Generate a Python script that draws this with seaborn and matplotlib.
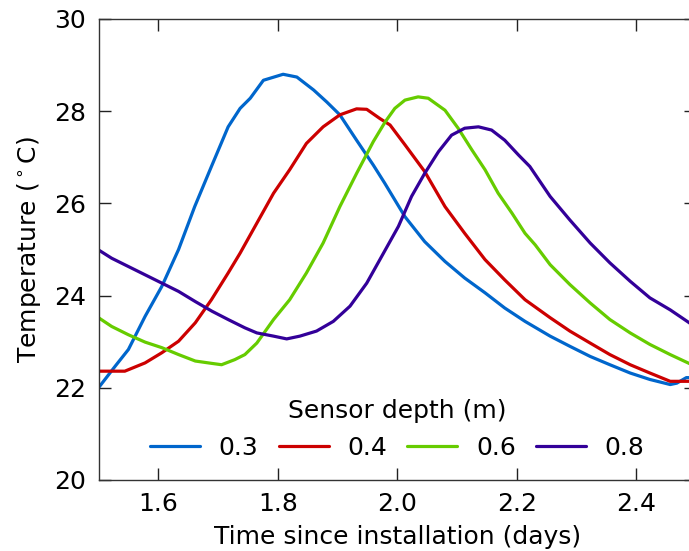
import numpy as np
import pandas as pd
import seaborn as sns
import matplotlib
matplotlib.use('Agg')
import matplotlib.pyplot as plt

# ----- Data (time in days, temperature in deg C) -----
depths = ['0.3', '0.4', '0.6', '0.8']
colors = ['#0066cc', '#cc0000', '#66cc00', '#330099']

t_03 = [1.50, 1.528, 1.55, 1.578, 1.606, 1.634, 1.661, 1.689, 1.717, 1.737, 1.754, 1.776, 1.809,
        1.832, 1.86, 1.882, 1.904, 1.932, 1.96, 1.979, 2.013, 2.046, 2.08, 2.113, 2.147, 2.18,
        2.214, 2.256, 2.289, 2.323, 2.356, 2.39, 2.423, 2.457, 2.468, 2.484, 2.49]
T_03 = [22.0, 22.47, 22.83, 23.55, 24.2, 25.0, 25.93, 26.8, 27.66, 28.06, 28.28, 28.67, 28.80,
        28.74, 28.46, 28.2, 27.92, 27.37, 26.83, 26.44, 25.71, 25.17, 24.74, 24.38, 24.06, 23.73,
        23.44, 23.12, 22.90, 22.68, 22.50, 22.32, 22.18, 22.07, 22.1, 22.22, 22.22]

t_04 = [1.50, 1.544, 1.578, 1.606, 1.634, 1.662, 1.689, 1.717, 1.737, 1.765, 1.793, 1.82, 1.848,
        1.876, 1.904, 1.932, 1.949, 1.971, 1.988, 2.013, 2.046, 2.08, 2.113, 2.147, 2.18, 2.214,
        2.256, 2.289, 2.323, 2.356, 2.39, 2.423, 2.457, 2.49]
T_04 = [22.36, 22.36, 22.54, 22.76, 23.01, 23.41, 23.91, 24.49, 24.92, 25.57, 26.22, 26.73, 27.30,
        27.66, 27.92, 28.05, 28.04, 27.84, 27.70, 27.27, 26.69, 25.93, 25.35, 24.78, 24.34, 23.91,
        23.52, 23.23, 22.97, 22.72, 22.50, 22.32, 22.14, 22.14]

t_06 = [1.50, 1.522, 1.55, 1.578, 1.606, 1.634, 1.662, 1.689, 1.706, 1.728, 1.745, 1.765, 1.793,
        1.82, 1.848, 1.876, 1.904, 1.932, 1.96, 1.98, 1.996, 2.013, 2.035, 2.052, 2.08, 2.102,
        2.125, 2.147, 2.169, 2.192, 2.214, 2.231, 2.256, 2.289, 2.323, 2.356, 2.39, 2.423, 2.457, 2.49]
T_06 = [23.52, 23.33, 23.15, 22.99, 22.87, 22.72, 22.58, 22.53, 22.50, 22.61, 22.72, 22.97, 23.48,
        23.91, 24.49, 25.14, 25.93, 26.65, 27.34, 27.77, 28.06, 28.24, 28.31, 28.28, 28.02, 27.63,
        27.16, 26.73, 26.22, 25.79, 25.35, 25.10, 24.67, 24.24, 23.84, 23.48, 23.19, 22.94, 22.72, 22.52]

t_08 = [1.50, 1.522, 1.55, 1.578, 1.606, 1.634, 1.662, 1.69, 1.717, 1.745, 1.765, 1.793, 1.815,
        1.837, 1.865, 1.893, 1.921, 1.949, 1.971, 2.002, 2.024, 2.046, 2.069, 2.091, 2.113, 2.136,
        2.158, 2.18, 2.203, 2.222, 2.256, 2.289, 2.323, 2.356, 2.39, 2.423, 2.457, 2.49]
T_08 = [24.99, 24.81, 24.63, 24.45, 24.27, 24.09, 23.87, 23.66, 23.48, 23.30, 23.19, 23.12, 23.06,
        23.12, 23.23, 23.44, 23.77, 24.27, 24.78, 25.50, 26.15, 26.65, 27.12, 27.48, 27.63, 27.66,
        27.59, 27.37, 27.05, 26.80, 26.15, 25.64, 25.14, 24.71, 24.31, 23.95, 23.69, 23.40]

# ----- Long-form dataframe for seaborn -----
frames = []
for d, t, T in zip(depths, [t_03, t_04, t_06, t_08], [T_03, T_04, T_06, T_08]):
    frames.append(pd.DataFrame({'time': t, 'temp': T, 'depth': d}))
df = pd.concat(frames, ignore_index=True)

sns.set_theme(style='ticks')
plt.rcParams['font.family'] = ['DejaVu Sans']
plt.rcParams['text.color'] = 'black'
plt.rcParams['axes.labelcolor'] = 'black'
plt.rcParams['xtick.color'] = 'black'
plt.rcParams['ytick.color'] = 'black'

fig = plt.figure(figsize=(6.89, 5.51), dpi=100)
ax = fig.add_axes([0.143, 0.1289, 0.867, 0.8367])

sns.lineplot(data=df, x='time', y='temp', hue='depth', hue_order=depths,
             palette=colors, linewidth=2.3, sort=False, ax=ax)

ax.set_xlim(1.5, 2.5)
ax.set_ylim(20, 30)
ax.set_xticks([1.6, 1.8, 2.0, 2.2, 2.4])
ax.set_yticks([20, 22, 24, 26, 28, 30])
ax.tick_params(direction='in', length=8.5, width=1, top=True, right=True,
               labelsize=18, color='#222222', labelcolor='black')
ax.tick_params(axis='y', pad=9)
ax.tick_params(axis='x', pad=9)
for s in ax.spines.values():
    s.set_linewidth(1.0)
    s.set_color('#333333')

ax.set_xlabel('Time since installation (days)', fontsize=18, labelpad=6)
ax.set_ylabel('Temperature ($^\\circ$C)', fontsize=18, labelpad=8)

sns.move_legend(ax, 'lower center', bbox_to_anchor=(0.5, 0.0), ncol=4,
                title='Sensor depth (m)', frameon=False, fontsize=18, title_fontsize=18,
                handlelength=2.0, handletextpad=0.75, columnspacing=0.8, borderaxespad=0.4)

fig.savefig('out.png', dpi=100)
